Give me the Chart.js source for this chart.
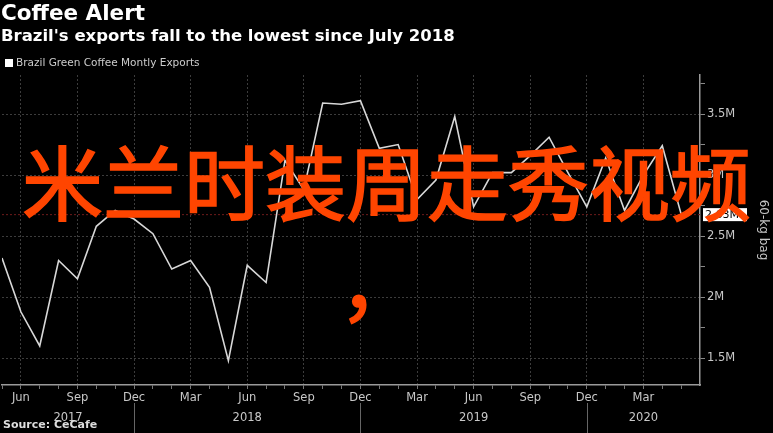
<!DOCTYPE html>
<html>
<head>
<meta charset="utf-8">
<script src="https://cdn.jsdelivr.net/npm/chart.js@4/dist/chart.umd.min.js"></script>
<style>
    html, body { margin: 0; padding: 0; background: #000; }
    #wrap { position: relative; width: 773px; height: 433px; overflow: hidden; background: #000; }
    #chart-box { position: absolute; left: 0; top: 0; width: 773px; height: 433px; }
    .head { position: absolute; left: 1px; color: #fff; font-family: "DejaVu Sans", sans-serif; font-weight: bold; white-space: nowrap; }
    #title { top: 0px; font-size: 21.5px; }
    #subtitle { top: 26px; font-size: 16.5px; }
    #legend { position: absolute; left: 5px; top: 56px; color: #ccc; font: 10.5px "DejaVu Sans", sans-serif; white-space: nowrap; }
    #legend span { display: inline-block; width: 8px; height: 8px; background: #fff; margin-right: 3px; vertical-align: -1px; }
    #source { position: absolute; left: 3px; top: 418px; color: #ddd; font: bold 11px "DejaVu Sans", sans-serif; }
    #overlay { position: absolute; left: 0; top: 129px; width: 773px; text-align: center; color: #ff4500;
               font-family: "Noto Sans CJK SC", sans-serif; font-size: 81px; line-height: 100px; white-space: nowrap;
               -webkit-text-stroke: 1.6px #ff4500; }
    #overlay .comma { position: relative; left: -7px; }
</style>
</head>
<body>
<div id="wrap">
    <div id="chart-box"><canvas id="chart"></canvas></div>
    <div class="head" id="title">Coffee Alert</div>
    <div class="head" id="subtitle">Brazil's exports fall to the lowest since July 2018</div>
    <div id="legend"><span></span>Brazil Green Coffee Montly Exports</div>
    <div id="source">Source: CeCafe</div>
    <div id="overlay">米兰时装周走秀视频<br><span class="comma">，</span></div>
</div>
<script>
const months = [
    'May 2017', 'Jun 2017', 'Jul 2017', 'Aug 2017', 'Sep 2017', 'Oct 2017', 'Nov 2017', 'Dec 2017',
    'Jan 2018', 'Feb 2018', 'Mar 2018', 'Apr 2018', 'May 2018', 'Jun 2018', 'Jul 2018', 'Aug 2018',
    'Sep 2018', 'Oct 2018', 'Nov 2018', 'Dec 2018', 'Jan 2019', 'Feb 2019', 'Mar 2019', 'Apr 2019',
    'May 2019', 'Jun 2019', 'Jul 2019', 'Aug 2019', 'Sep 2019', 'Oct 2019', 'Nov 2019', 'Dec 2019',
    'Jan 2020', 'Feb 2020', 'Mar 2020', 'Apr 2020', 'May 2020'
];

// exports, millions of 60-kg bags
const exportsM = [
    2.32, 1.88, 1.60, 2.30, 2.15, 2.58, 2.71, 2.64,
    2.52, 2.23, 2.30, 2.08, 1.48, 2.26, 2.12, 3.12,
    2.88, 3.59, 3.58, 3.61, 3.22, 3.25, 2.80, 2.96,
    3.48, 2.74, 3.02, 3.02, 3.16, 3.31, 3.02, 2.74,
    3.14, 2.71, 3.00, 3.24, 2.68
];

const yTicks = [1.5, 1.75, 2, 2.25, 2.5, 2.75, 3, 3.25, 3.5, 3.75];
const yearLabels = ['2017', '2018', '2019', '2020'];
const lastValueLabel = '2.63M';

const axisColor = '#9a9a9a';
const gridColor = '#3c3c3c';
const labelColor = '#c8c8c8';

const points = exportsM.map((v, i) => ({ x: i, y: v }));

function isMajorMonth(i) {
    return i % 3 === 1;
}
function isHalf(v) {
    return Math.abs(v * 2 - Math.round(v * 2)) < 1e-6;
}

// red last-value line and the white value box on the axis
const lastValuePlugin = {
    id: 'lastValue',
    beforeDatasetsDraw(chart) {
        const { ctx, chartArea, scales } = chart;
        const y = scales.y.getPixelForValue(exportsM[exportsM.length - 1]);
        ctx.save();
        ctx.strokeStyle = '#6e1b1b';
        ctx.lineWidth = 1;
        ctx.setLineDash([2, 2]);
        ctx.beginPath();
        ctx.moveTo(chartArea.left, y + 0.5);
        ctx.lineTo(chartArea.right, y + 0.5);
        ctx.stroke();
        ctx.restore();
    },
    afterDraw(chart) {
        const { ctx, chartArea, scales } = chart;
        const y = scales.y.getPixelForValue(exportsM[exportsM.length - 1]);
        ctx.save();
        ctx.fillStyle = '#fff';
        ctx.fillRect(chartArea.right + 3, y - 6, 44, 13);
        ctx.fillStyle = '#000';
        ctx.font = '11px "DejaVu Sans", sans-serif';
        ctx.textBaseline = 'middle';
        ctx.fillText(lastValueLabel, chartArea.right + 5, y + 1);
        ctx.restore();
    }
};

// year row under the month ticks
const yearRowPlugin = {
    id: 'yearRow',
    afterDraw(chart) {
        const { ctx, scales } = chart;
        const x = scales.x;
        const decIdx = months.map((m, i) => m.startsWith('Dec') ? i : -1).filter(i => i >= 0);
        const bounds = [x.min, ...decIdx, x.max];
        ctx.save();
        ctx.strokeStyle = '#666';
        ctx.lineWidth = 1;
        decIdx.forEach(i => {
            const px = Math.round(x.getPixelForValue(i)) + 0.5;
            ctx.beginPath();
            ctx.moveTo(px, 403);
            ctx.lineTo(px, 433);
            ctx.stroke();
        });
        ctx.fillStyle = labelColor;
        ctx.font = '11.5px "DejaVu Sans", sans-serif';
        ctx.textAlign = 'center';
        ctx.textBaseline = 'middle';
        yearLabels.forEach((label, k) => {
            const mid = (bounds[k] + bounds[k + 1]) / 2;
            ctx.fillText(label, x.getPixelForValue(mid), 418);
        });
        ctx.restore();
    }
};

new Chart(document.getElementById('chart'), {
    type: 'line',
    data: {
        datasets: [{
            label: 'Brazil Green Coffee Montly Exports',
            data: points,
            borderColor: '#d8d8d8',
            borderWidth: 1.6,
            pointRadius: 0,
            tension: 0,
            fill: false
        }]
    },
    options: {
        responsive: true,
        maintainAspectRatio: false,
        animation: false,
        layout: { padding: { top: 75, left: 0, right: 0, bottom: 0 } },
        plugins: {
            legend: { display: false },
            tooltip: { enabled: false }
        },
        scales: {
            x: {
                type: 'linear',
                min: 0,
                max: 37,
                afterBuildTicks: (scale) => {
                    scale.ticks = months.map((m, i) => ({ value: i }));
                },
                afterFit: (scale) => { scale.height = 48; },
                grid: {
                    color: (c) => (c.tick && isMajorMonth(c.tick.value)) ? gridColor : 'rgba(0,0,0,0)',
                    tickColor: '#777',
                    tickLength: 4,
                    lineWidth: 1
                },
                border: { display: true, color: axisColor, width: 1.5, dash: [2, 2] },
                ticks: {
                    autoSkip: false,
                    maxRotation: 0,
                    padding: 2,
                    color: labelColor,
                    font: { family: 'DejaVu Sans', size: 11.5 },
                    callback: (v) => isMajorMonth(v) ? months[v].split(' ')[0] : ''
                }
            },
            y: {
                position: 'right',
                min: 1.28,
                max: 3.82,
                afterBuildTicks: (scale) => {
                    scale.ticks = yTicks.map(v => ({ value: v }));
                },
                afterFit: (scale) => { scale.width = 73; },
                grid: {
                    color: (c) => (c.tick && isHalf(c.tick.value)) ? gridColor : 'rgba(0,0,0,0)',
                    tickColor: '#888',
                    tickLength: 5,
                    lineWidth: 1
                },
                border: { display: true, color: axisColor, width: 1.5, dash: [2, 2] },
                ticks: {
                    padding: 2,
                    color: labelColor,
                    font: { family: 'DejaVu Sans', size: 11.5 },
                    callback: (v) => isHalf(v) ? v + 'M' : ''
                },
                title: {
                    display: true,
                    text: '60-kg bag',
                    color: labelColor,
                    font: { family: 'DejaVu Sans', size: 12 },
                    padding: 3
                }
            }
        }
    },
    plugins: [lastValuePlugin, yearRowPlugin]
});
</script>
</body>
</html>
